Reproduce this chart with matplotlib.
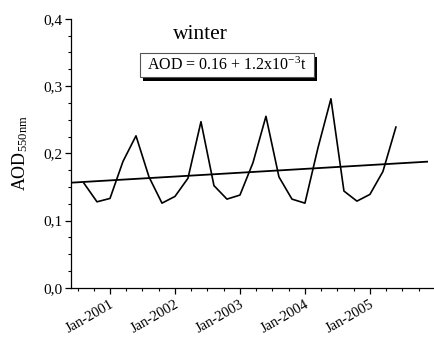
import matplotlib
matplotlib.use("Agg")
import matplotlib.pyplot as plt
from matplotlib.patches import Rectangle
from matplotlib.ticker import FixedLocator, FuncFormatter, MultipleLocator

plt.rcParams['font.family'] = ['Liberation Serif', 'DejaVu Serif']
plt.rcParams['mathtext.fontset'] = 'custom'
plt.rcParams['mathtext.rm'] = 'Liberation Serif'
plt.rcParams['mathtext.it'] = 'Liberation Serif:italic'

# data: 5 samples per year, time in decimal years
time_years = [2000.6 + 0.2 * i for i in range(25)]
aod = [0.1555, 0.128, 0.133, 0.188, 0.226, 0.165, 0.126, 0.136, 0.163, 0.247,
       0.152, 0.132, 0.138, 0.186, 0.255, 0.165, 0.132, 0.126, 0.208, 0.281,
       0.144, 0.129, 0.139, 0.173, 0.239]
trend_x = [2000.4, 2005.88]
trend_y = [0.1564, 0.1876]
year_ticks = [2001, 2002, 2003, 2004, 2005]
year_labels = ['Jan-2001', 'Jan-2002', 'Jan-2003', 'Jan-2004', 'Jan-2005']
y_ticks = [0.0, 0.1, 0.2, 0.3, 0.4]

fig = plt.figure(figsize=(4.34, 3.38), dpi=100)
ax = fig.add_axes([0.1636, 0.148, 0.834, 0.7967])

ax.plot(time_years, aod, color='black', lw=1.2)
ax.plot(trend_x, trend_y, color='black', lw=1.3)

ax.set_xlim(2000.4, 2005.97)
ax.set_ylim(0, 0.4)

ax.xaxis.set_major_locator(FixedLocator(year_ticks))
ax.set_xticklabels(year_labels)
ax.xaxis.set_minor_locator(MultipleLocator(0.25))
ax.yaxis.set_major_locator(FixedLocator(y_ticks))
ax.yaxis.set_minor_locator(MultipleLocator(0.025))
ax.yaxis.set_major_formatter(FuncFormatter(lambda v, p: f"{v:.1f}".replace('.', ',')))

for s in ['top', 'right']:
    ax.spines[s].set_visible(False)
for s in ['left', 'bottom']:
    ax.spines[s].set_linewidth(0.9)

ax.tick_params(axis='both', which='major', direction='out', length=4, width=0.9, labelsize=11)
ax.tick_params(axis='both', which='minor', direction='out', length=2.5, width=0.8)
ax.tick_params(axis='x', which='major', pad=3, labelsize=10.5)
ax.tick_params(axis='y', which='major', pad=2)
for lbl in ax.get_xticklabels():
    lbl.set_rotation(30)
    lbl.set_ha('right')
    lbl.set_va('top')
    lbl.set_rotation_mode('anchor')

ax.set_ylabel(r'AOD$_{\mathrm{550nm}}$', fontsize=13, labelpad=10)

ax.text(0.357, 0.94, 'winter', transform=ax.transAxes, fontsize=15.5,
        ha='center', va='center')

# equation box with drop shadow
bx, by, bw, bh = 0.1906, 0.7824, 0.4806, 0.0891
sx, sy = 3.5 / 362, 3.5 / 269.3
ax.add_patch(Rectangle((bx + sx, by - sy), bw, bh, transform=ax.transAxes,
                       facecolor='black', edgecolor='black', lw=0, zorder=4))
ax.add_patch(Rectangle((bx, by), bw, bh, transform=ax.transAxes,
                       facecolor='white', edgecolor='#555555', lw=0.8, zorder=5))
ax.text(bx + bw / 2, by + bh / 2, r'AOD = 0.16 + 1.2x10$^{-3}$t', transform=ax.transAxes,
        fontsize=11.5, ha='center', va='center', zorder=6)

fig.savefig('out.png', dpi=100)
